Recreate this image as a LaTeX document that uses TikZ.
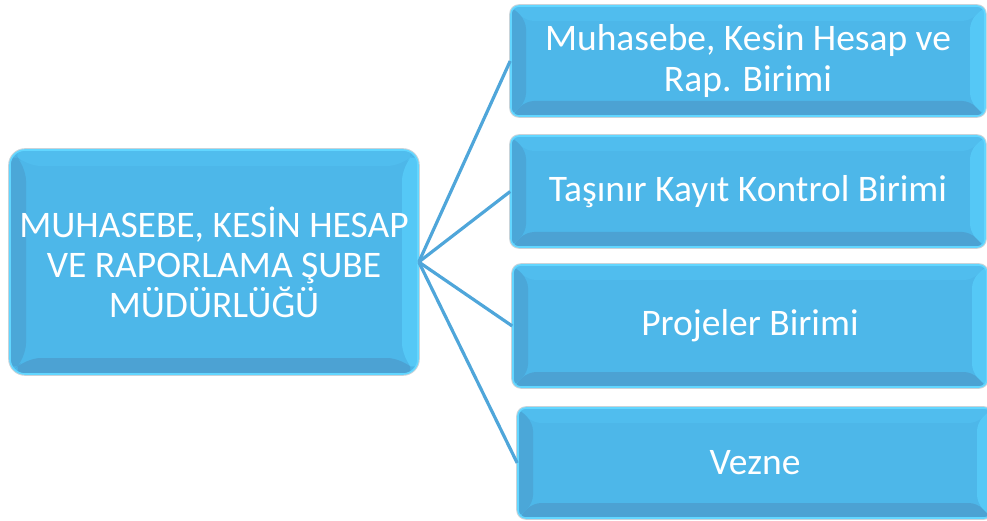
\documentclass[tikz,border=0pt]{standalone}
\usepackage{fontspec}
\setmainfont{Carlito}
\usetikzlibrary{calc}

\definecolor{boxfill}{HTML}{4DB7E9}
\definecolor{bevdark}{HTML}{4BA7D8}
\definecolor{bevdeep}{HTML}{4CA2D3}
\definecolor{bevlight}{HTML}{55C8F6}
\definecolor{bevtop}{HTML}{50BDEE}
\definecolor{edgecyan}{HTML}{62D6FF}
\definecolor{rimgrey}{HTML}{C9D3D9}
\definecolor{linkblue}{HTML}{4FA6DA}

\tikzset{
  % angled bevel: darker left and bottom faces, lighter top and right faces
  bevel/.style={path picture={
    \fill[bevtop] let \p1=(path picture bounding box.south west),
                      \p2=(path picture bounding box.north east) in
      (\x1,\y2) -- (\x2,\y2) -- ({\x2-#1},{\y2-#1}) -- ({\x1+#1},{\y2-#1}) -- cycle;
    \fill[bevdeep] let \p1=(path picture bounding box.south west),
                      \p2=(path picture bounding box.north east) in
      (\x1,\y1) -- (\x2,\y1) -- ({\x2-#1},{\y1+#1}) -- ({\x1+#1},{\y1+#1}) -- cycle;
    \fill[bevdark] let \p1=(path picture bounding box.south west),
                      \p2=(path picture bounding box.north east) in
      (\x1,\y1) -- ({\x1+#1},{\y1+#1}) -- ({\x1+#1},{\y2-#1}) -- (\x1,\y2) -- cycle;
    \fill[bevlight] let \p1=(path picture bounding box.south west),
                      \p2=(path picture bounding box.north east) in
      (\x2,\y1) -- (\x2,\y2) -- ({\x2-#1},{\y2-#1}) -- ({\x2-#1},{\y1+#1}) -- cycle;
  }},
  boxbase/.style={fill=boxfill, draw=edgecyan, line width=1.6pt,
    text=white, align=center, inner sep=0pt,
    preaction={draw=rimgrey, line width=3.6pt}},
  headbox/.style={boxbase, rounded corners=15pt, minimum width=408pt,
    minimum height=224pt, font=\fontsize{37.5}{40}\selectfont, bevel=16pt},
  unitbox/.style={boxbase, rounded corners=8pt, minimum width=474pt,
    minimum height=110pt, font=\fontsize{37.5}{41}\selectfont, bevel=15pt},
  link/.style={draw=linkblue, line width=3.2pt},
}

\begin{document}
\begin{tikzpicture}[x=1pt,y=1pt]
  \useasboundingbox (0,0) rectangle (987,520);

  % head office
  \node[headbox] (head) at (214,258)
    {MUHASEBE, KESİN HESAP\\VE RAPORLAMA ŞUBE\\MÜDÜRLÜĞÜ};

  % units
  \node[unitbox] (u1) at (748,459) {Muhasebe, Kesin Hesap ve\\Rap. Birimi};
  \node[unitbox, minimum height=111pt] (u2) at (748,328.5) {Taşınır Kayıt Kontrol Birimi};
  \node[unitbox, minimum height=122pt] (u3) at (750,194) {Projeler Birimi};
  \node[unitbox] (u4) at (755,57) {Vezne};

  % connectors
  \foreach \u in {u1,u2,u3,u4}
    \draw[link] (head.east) -- (\u.west);
\end{tikzpicture}
\end{document}
